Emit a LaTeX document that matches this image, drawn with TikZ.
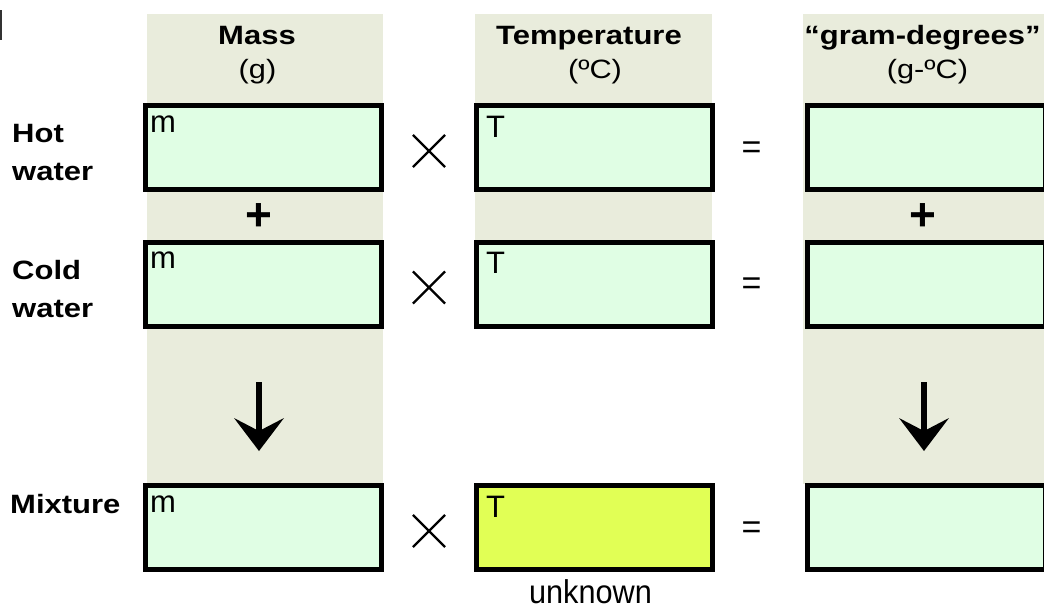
\documentclass[tikz,border=0pt]{standalone}
\usepackage{fontspec}
\setmainfont{Liberation Sans}
\usetikzlibrary{arrows.meta,shapes.misc}
\definecolor{stripbg}{HTML}{E9ECDC}
\definecolor{cellfill}{HTML}{E0FEE4}
\definecolor{unknownfill}{HTML}{E1FF55}

\begin{document}
\begin{tikzpicture}[x=1pt,y=-1pt,
  cell/.style={draw=black, line width=5pt, fill=cellfill, minimum width=236pt,
    minimum height=84pt, inner sep=0pt, outer sep=0pt},
  lastcell/.style={cell, minimum width=237.5pt},
  hdr/.style={font=\bfseries\fontsize{26.5}{30}\selectfont, xscale=1.17, anchor=base, inner sep=0pt},
  unit/.style={font=\fontsize{26.5}{30}\selectfont, xscale=1.16, anchor=base, inner sep=0pt},
  rowlab/.style={font=\bfseries\fontsize{26.5}{30}\selectfont, xscale=1.17, anchor=base west, inner sep=0pt},
  cellmark/.style={font=\fontsize{31}{31}\selectfont, anchor=base west, inner sep=0pt},
  times/.style={cross out, draw=black, line width=2.2pt, minimum size=30pt, inner sep=0pt},
  equals/.style={font=\fontsize{34}{34}\selectfont, inner sep=0pt},
  plus/.style={font=\bfseries\fontsize{46}{46}\selectfont, inner sep=0pt},
  flow/.style={line width=6pt, -{Stealth[length=33pt, width=50pt, inset=13pt, line width=0pt]}},
]
\useasboundingbox (0,0) rectangle (1044,608);
\fill[white] (0,0) rectangle (1044,608);

% column strips
\fill[stripbg] (147,14) rectangle (383,484);
\fill[stripbg] (475,14) rectangle (712,241);
\fill[stripbg] (803,14) rectangle (1044,484);

% edge mark at the top left
\fill[black!80] (0,10) rectangle (1.5,40);

% column headings
\node[hdr] (hmass) at (257,44) {Mass};
\node[unit] (umass) at (257.5,78) {(g)};
\node[hdr] (htemp) at (589,44) {Temperature};
\node[unit] (utemp) at (595,78) {(ºC)};
\node[hdr] (hgd) at (922.5,44) {“gram-degrees”};
\node[unit] (ugd) at (927.5,78) {(g-ºC)};

% row labels
\node[rowlab] (lhot1) at (12,142) {Hot};
\node[rowlab] (lhot2) at (12,180) {water};
\node[rowlab] (lcold1) at (12,279) {Cold};
\node[rowlab] (lcold2) at (12,317) {water};
\node[rowlab] (lmix) at (10,513) {Mixture};

% hot water row
\node[cell] (mhot) at (263.5,147.5) {};
\node[cell] (thot) at (594.5,147.5) {};
\node[lastcell] (ghot) at (926.25,147.5) {};
\node[cellmark] (mhotl) at (150,132) {m};
\node[cellmark] (thotl) at (486,137) {T};
\node[times] (xhot) at (429,151) {};
\node[equals] (ehot) at (751.5,150.5) {=};

% plus signs between the rows
\node[plus] (pm) at (258.5,217) {+};
\node[plus] (pg) at (922.5,217) {+};

% cold water row
\node[cell] (mcold) at (263.5,284) {};
\node[cell] (tcold) at (594.5,284) {};
\node[lastcell] (gcold) at (926.25,284) {};
\node[cellmark] (mcoldl) at (150,268) {m};
\node[cellmark] (tcoldl) at (486,273) {T};
\node[times] (xcold) at (429,287.5) {};
\node[equals] (ecold) at (751.5,286.5) {=};

% arrows down to the mixture row
\coordinate (ma1) at (259,382);
\coordinate (ma2) at (259,451);
\coordinate (ga1) at (924,382);
\coordinate (ga2) at (924,451);
\draw[flow] (ma1) -- (ma2);
\draw[flow] (ga1) -- (ga2);

% mixture row
\node[cell] (mmix) at (263.5,527) {};
\node[cell, fill=unknownfill] (tmix) at (594.5,527) {};
\node[lastcell] (gmix) at (926.25,527) {};
\node[cellmark] (mmixl) at (150,512) {m};
\node[cellmark] (tmixl) at (486,517) {T};
\node[times] (xmix) at (429,531) {};
\node[equals] (emix) at (751.5,530.5) {=};
\node[font=\fontsize{33}{33}\selectfont, xscale=0.93, anchor=base, inner sep=0pt] (unk) at (590.5,603) {unknown};
\end{tikzpicture}
\end{document}
